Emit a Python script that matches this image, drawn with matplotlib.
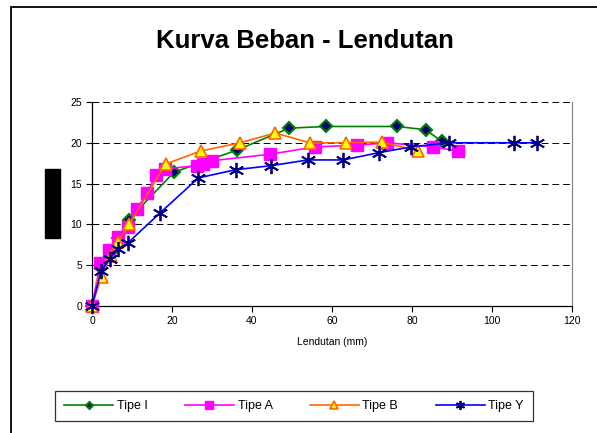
import matplotlib
matplotlib.use("Agg")
import matplotlib.pyplot as plt
from matplotlib.patches import Rectangle

plt.rcParams["font.family"] = ["Liberation Sans", "DejaVu Sans"]

# data (lendutan in mm, beban)
tipe_i_x = [0, 2.2, 4.5, 6.6, 9.2, 20.5, 36.2, 49.3, 58.6, 76.3, 83.4, 87.4]
tipe_i_y = [0, 4.6, 6.5, 8.3, 10.6, 16.4, 19.1, 21.8, 22.0, 22.0, 21.6, 20.2]

tipe_a_x = [0, 2.1, 4.3, 6.6, 9.0, 11.2, 13.8, 15.9, 18.3, 26.2, 27.8, 30.0, 44.5, 55.8, 66.2, 73.8, 85.3, 91.4]
tipe_a_y = [0, 5.3, 6.9, 8.5, 9.7, 11.9, 13.8, 16.0, 16.8, 17.2, 17.4, 17.8, 18.6, 19.5, 19.7, 20.0, 19.5, 19.0]

tipe_b_x = [0, 2.4, 4.7, 6.4, 9.3, 18.4, 27.2, 37.0, 45.8, 54.4, 63.4, 72.4, 81.6]
tipe_b_y = [0, 3.6, 6.1, 7.8, 10.0, 17.4, 19.0, 20.0, 21.2, 20.0, 20.0, 20.1, 19.0]

tipe_y_x = [0, 2.3, 4.5, 6.4, 8.9, 17.0, 26.6, 35.9, 44.8, 54.0, 62.8, 71.8, 79.8, 89.2, 105.5, 111.2]
tipe_y_y = [0, 4.3, 5.8, 7.0, 7.7, 11.4, 15.7, 16.7, 17.2, 17.9, 17.9, 18.8, 19.5, 20.0, 20.0, 20.0]

x_ticks = [0, 20, 40, 60, 80, 100, 120]
y_ticks = [0, 5, 10, 15, 20, 25]

W, H = 597, 433
fig = plt.figure(figsize=(W / 100, H / 100), dpi=100)
ax = fig.add_axes([92 / W, 1 - 306 / H, 480 / W, 204 / H])

ax.plot(tipe_i_x, tipe_i_y, color="#008000", lw=1.2, marker="D", ms=6,
        mfc="#000080", mec="#008000", mew=1.5, label="Tipe I", zorder=3)
ax.plot(tipe_a_x, tipe_a_y, color="#FF00FF", lw=1.2, marker="s", ms=9,
        mfc="#FF00FF", mec="#FF00FF", label="Tipe A", zorder=4)
ax.plot(tipe_b_x, tipe_b_y, color="#FF6600", lw=1.2, marker="^", ms=9,
        mfc="#FFFF00", mec="#FF6600", mew=1.2, label="Tipe B", zorder=5)
ax.plot(tipe_y_x, tipe_y_y, color="#0000FF", lw=1.2, marker=(6, 2, 0), ms=11,
        mec="#000080", mew=1.3, label="Tipe Y", zorder=6)

ax.set_xlim(0, 120)
ax.set_ylim(0, 25)
ax.set_xticks(x_ticks)
ax.set_yticks(y_ticks)
ax.tick_params(direction="out", length=4, width=0.8, labelsize=7.5, pad=3)
ax.yaxis.grid(True, color="black", ls=(0, (7, 4)), lw=0.7)
ax.set_axisbelow(True)
ax.spines["top"].set_visible(False)
ax.spines["right"].set_color("#808080")
ax.spines["left"].set_linewidth(0.9)
ax.spines["bottom"].set_linewidth(0.9)
for m in ax.get_lines():
    m.set_clip_on(False)
ax.set_xlabel("Lendutan (mm)", fontsize=7.5, labelpad=8)

fig.suptitle("Kurva Beban - Lendutan", x=305 / W, y=1 - 41 / H, va="center",
             fontsize=18.5, fontweight="bold")

# redacted y-axis title box
fig.add_artist(Rectangle((45 / W, 1 - 238 / H), 15 / W, 69 / H,
                         transform=fig.transFigure, color="black"))
# outer chart frame
fig.add_artist(Rectangle((11 / W, -0.1), 1.2, 1.1 - 7 / H, transform=fig.transFigure,
                         fill=False, ec="black", lw=1.3))

leg = fig.legend(loc="center", bbox_to_anchor=(294 / W, 1 - 406 / H), ncol=4,
                 fontsize=9, frameon=True, fancybox=False, edgecolor="black",
                 handlelength=3.9, columnspacing=3.0, handletextpad=0.3,
                 borderpad=0.75, borderaxespad=0, markerscale=0.6)
leg.get_frame().set_linewidth(0.9)

fig.savefig("out.png", dpi=100)
